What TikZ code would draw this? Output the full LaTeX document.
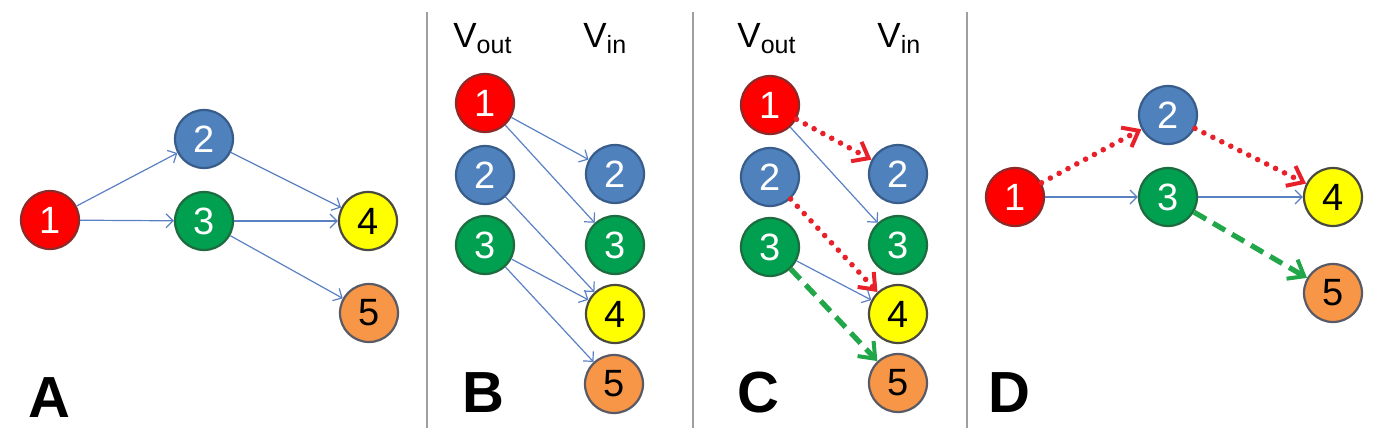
\documentclass[tikz,border=0pt]{standalone}
\usepackage{fontspec}
\setmainfont{Liberation Sans}
\usetikzlibrary{arrows.meta}

\definecolor{vxred}{HTML}{FF0000}
\definecolor{vxredline}{HTML}{8C2A2A}
\definecolor{vxblue}{HTML}{4F81BD}
\definecolor{vxblueline}{HTML}{385D8A}
\definecolor{vxgreen}{HTML}{00A050}
\definecolor{vxgreenline}{HTML}{1F6B40}
\definecolor{vxyellow}{HTML}{FFFF00}
\definecolor{vxyellowline}{HTML}{4A4A40}
\definecolor{vxorange}{HTML}{F79646}
\definecolor{vxorangeline}{HTML}{5A5A66}
\definecolor{flowblue}{HTML}{5A80C4}
\definecolor{pathred}{HTML}{E8202A}
\definecolor{pathgreen}{HTML}{22A64A}

\newcommand{\voutlbl}{V\raisebox{-0.35ex}{\fontsize{12.5}{14}\selectfont out}}
\newcommand{\vinlbl}{V\raisebox{-0.35ex}{\fontsize{12.5}{14}\selectfont in}}

\begin{document}
\begin{tikzpicture}[
  x=0.5pt,y=-0.5pt,
  vtx/.style={circle,line width=1.1pt,minimum size=29pt,inner sep=0pt,font=\fontsize{19}{22}\selectfont},
  vred/.style={vtx,fill=vxred,draw=vxredline,text=white},
  vblue/.style={vtx,fill=vxblue,draw=vxblueline,text=white},
  vgreen/.style={vtx,fill=vxgreen,draw=vxgreenline,text=white},
  vyellow/.style={vtx,fill=vxyellow,draw=vxyellowline,text=black},
  vorange/.style={vtx,fill=vxorange,draw=vxorangeline,text=black},
  flow/.style={draw=flowblue,line width=0.6pt,-{Straight Barb[length=3.5pt,width=7pt]}},
  redpath/.style={draw=pathred,line width=2.8pt,line cap=round,dash pattern=on 0pt off 5pt,
    -{Straight Barb[length=7pt,width=11pt,line width=2pt]}},
  greenpath/.style={draw=pathgreen,line width=2.6pt,dash pattern=on 7pt off 4pt,
    -{Straight Barb[length=7pt,width=11pt,line width=2pt]}},
  colhead/.style={anchor=base west,inner sep=0pt,font=\fontsize{17.5}{20}\selectfont},
  panel/.style={anchor=base west,inner sep=0pt,font=\fontsize{29}{32}\selectfont\bfseries},
  sep/.style={draw=gray!75,line width=0.7pt},
]
\useasboundingbox (0,0) rectangle (1399,428);

% separators
\draw[sep] (427,12) -- (427,428);
\draw[sep] (693,12) -- (693,428);
\draw[sep] (967,12) -- (967,428);

% panel A
\node[vred] (a1) at (50,220) {1};
\node[vblue] (a2) at (204,139) {2};
\node[vgreen] (a3) at (204,221) {3};
\node[vyellow] (a4) at (368,221) {4};
\node[vorange] (a5) at (369,313) {5};
\draw[flow] (a1) -- (a2);
\draw[flow] (a1) -- (a3);
\draw[flow] (a2) -- (a4);
\draw[flow] (a3) -- (a4);
\draw[flow] (a3) -- (a5);
\node[panel] (la) at (28,417) {A};

% panel B
\node[colhead] (bout) at (453,47) {\voutlbl};
\node[colhead] (bin) at (583,47) {\vinlbl};
\node[vred] (b1o) at (485,103) {1};
\node[vblue] (b2o) at (485,175) {2};
\node[vgreen] (b3o) at (485,245) {3};
\node[vblue] (b2i) at (615,174) {2};
\node[vgreen] (b3i) at (615,245) {3};
\node[vyellow] (b4i) at (615,314) {4};
\node[vorange] (b5i) at (614,384) {5};
\draw[flow] (b1o) -- (b2i);
\draw[flow] (b1o) -- (b3i);
\draw[flow] (b2o) -- (b4i);
\draw[flow] (b3o) -- (b4i);
\draw[flow] (b3o) -- (b5i);
\node[panel] (lb) at (462,412) {B};

% panel C
\node[colhead] (cout) at (737,47) {\voutlbl};
\node[colhead] (cin) at (877,47) {\vinlbl};
\node[vred] (c1o) at (770,105) {1};
\node[vblue] (c2o) at (770,177) {2};
\node[vgreen] (c3o) at (770,247) {3};
\node[vblue] (c2i) at (898,174) {2};
\node[vgreen] (c3i) at (898,245) {3};
\node[vyellow] (c4i) at (898,314) {4};
\node[vorange] (c5i) at (898,383) {5};
\draw[redpath] (c1o) -- (c2i);
\draw[flow] (c1o) -- (c3i);
\draw[redpath] (c2o) -- (c4i);
\draw[flow] (c3o) -- (c4i);
\draw[greenpath] (c3o) -- (c5i);
\node[panel] (lc) at (737,412) {C};

% panel D
\node[vred] (d1) at (1015,197) {1};
\node[vblue] (d2) at (1168,115) {2};
\node[vgreen] (d3) at (1168,197) {3};
\node[vyellow] (d4) at (1333,197) {4};
\node[vorange] (d5) at (1333,293) {5};
\draw[redpath] (d1) -- (d2);
\draw[flow] (d1) -- (d3);
\draw[redpath] (d2) -- (d4);
\draw[flow] (d3) -- (d4);
\draw[greenpath] (d3) -- (d5);
\node[panel] (ld) at (988,412) {D};
\end{tikzpicture}
\end{document}
